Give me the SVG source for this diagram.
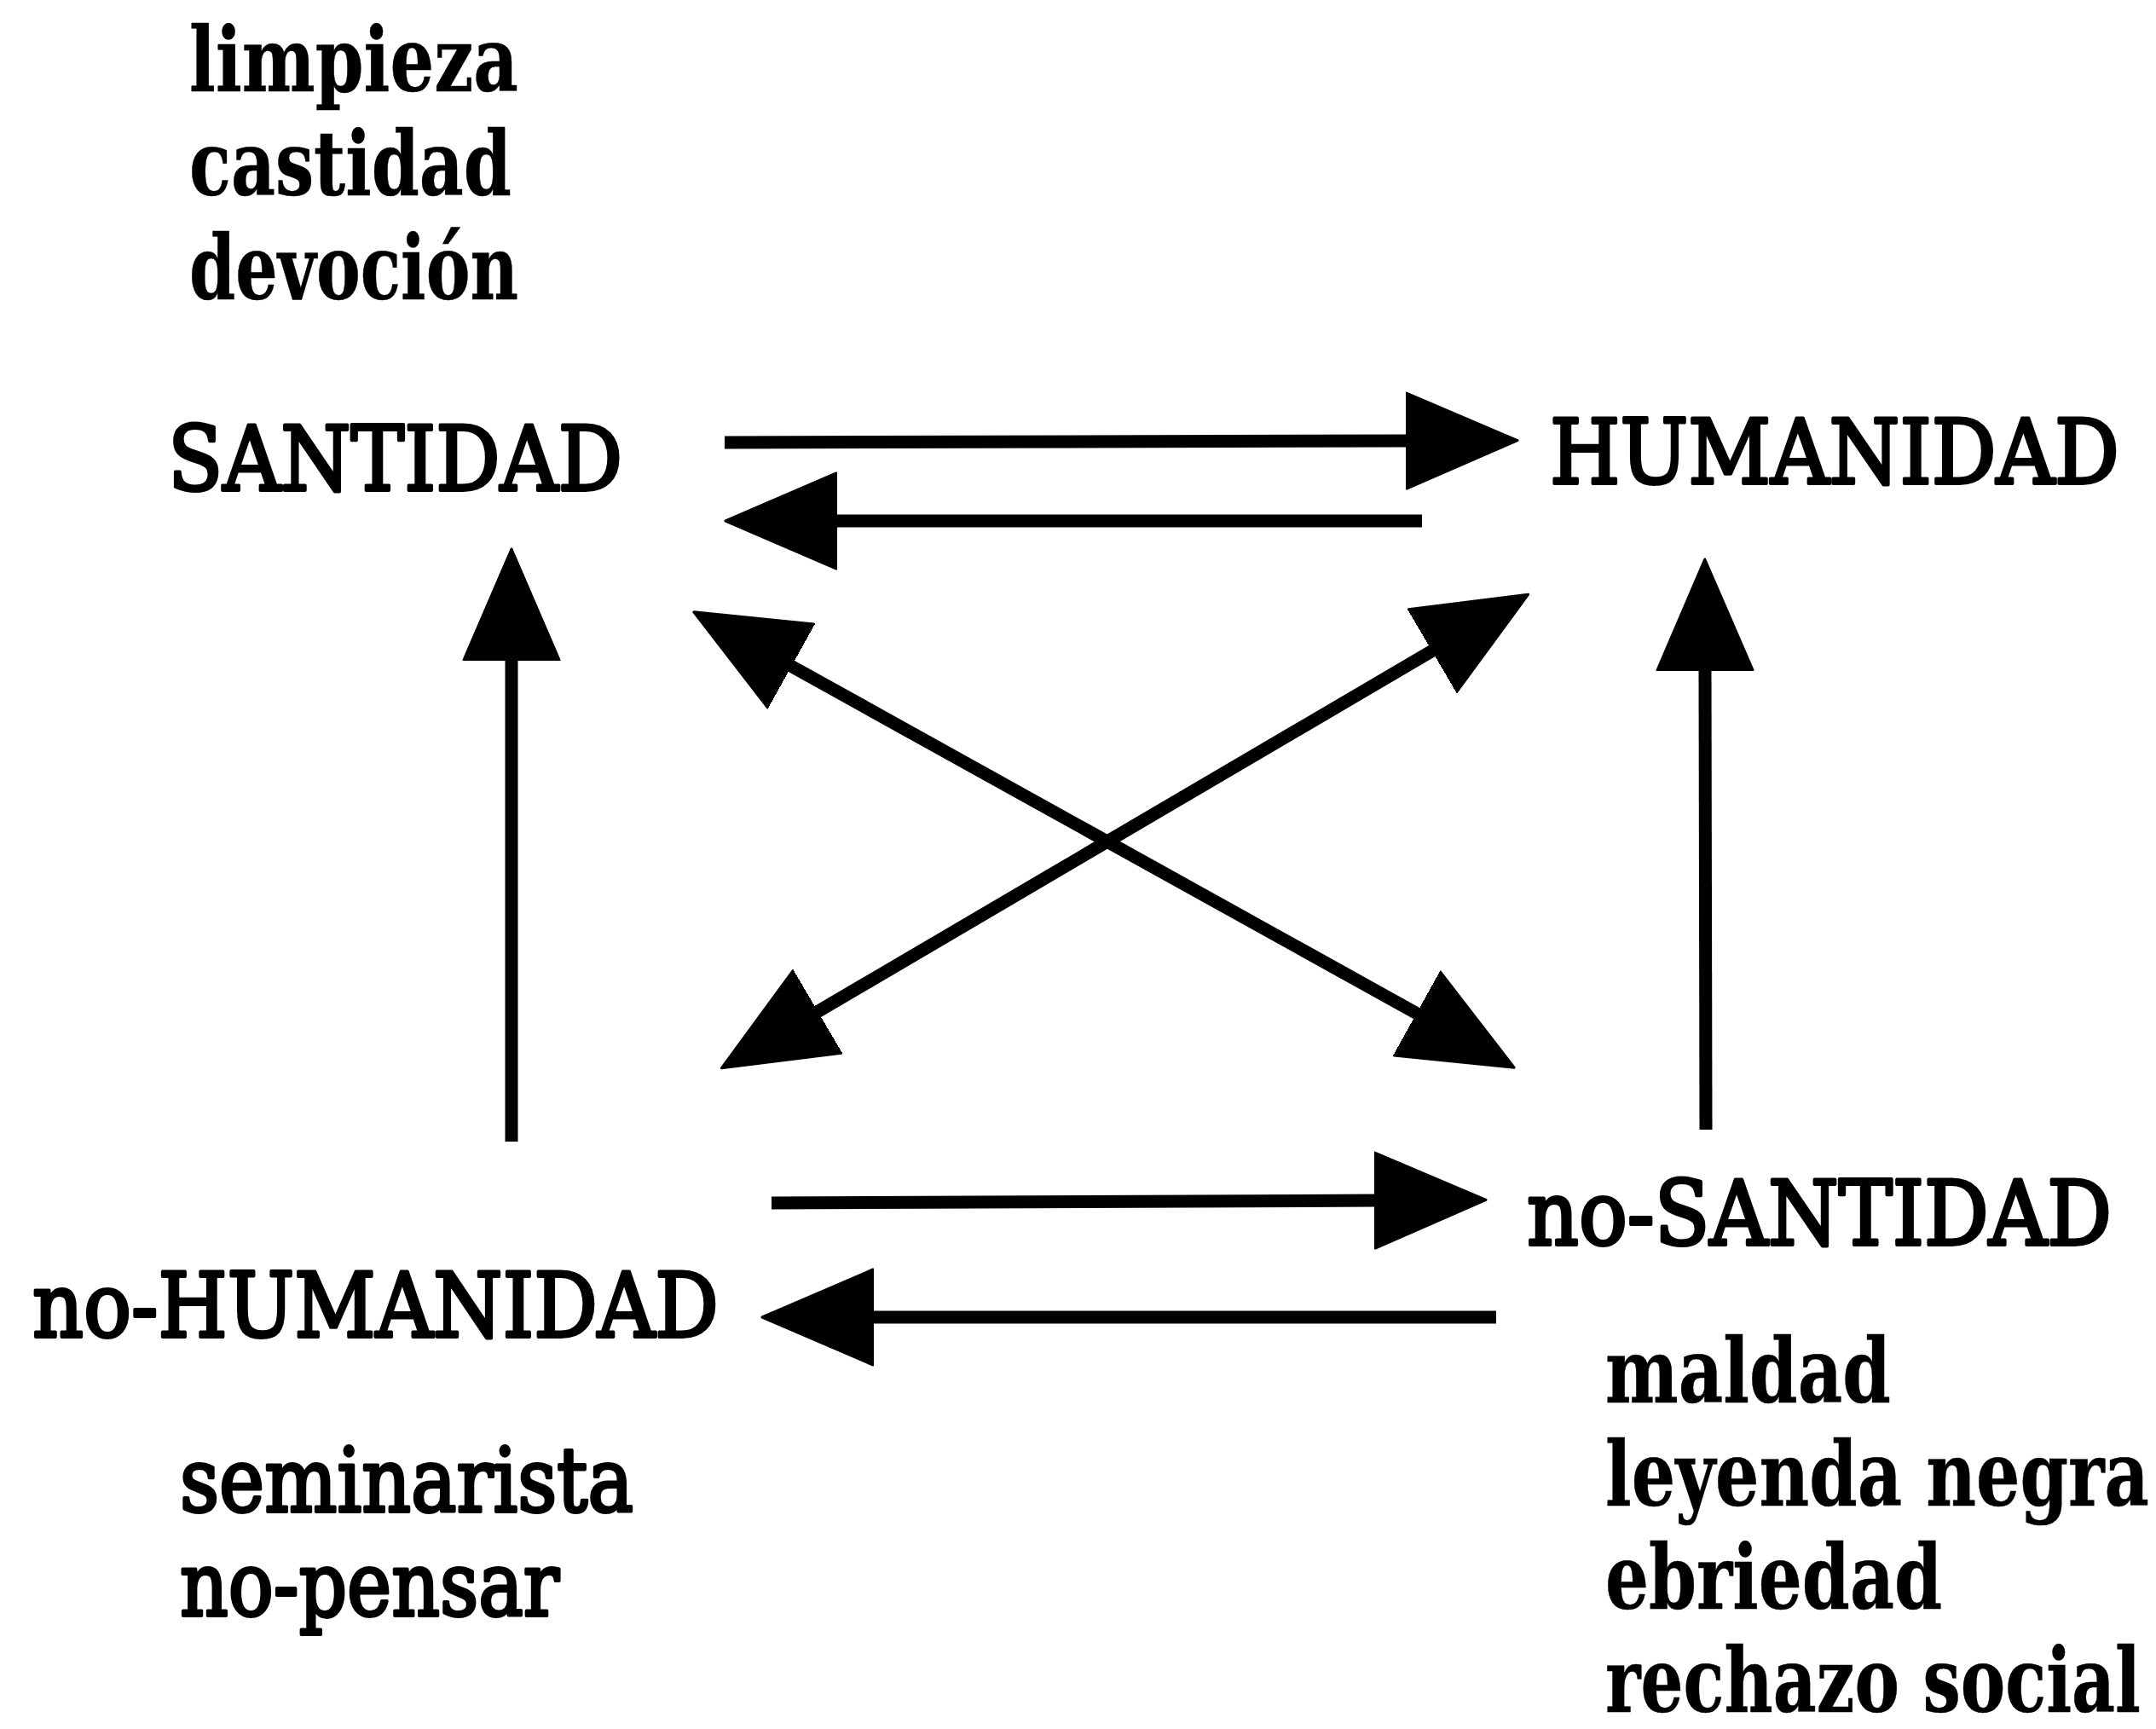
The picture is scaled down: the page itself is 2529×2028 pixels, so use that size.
<svg xmlns="http://www.w3.org/2000/svg" width="2529" height="2028" viewBox="0 0 2529 2028">
  <style>
    text { font-family: "DejaVu Serif", "Liberation Serif", serif; font-size: 104px; fill: #000; stroke: #000; stroke-width: 4px; stroke-linejoin: round; }
    text.list { font-weight: 700; stroke-width: 0.5px; }
    .conn { stroke: #000; stroke-width: 15; fill: none; }
  </style>
  <defs>
    <marker id="head" viewBox="-5 -60 135 120" markerWidth="135" markerHeight="120" refX="0" refY="0" orient="auto-start-reverse" markerUnits="userSpaceOnUse">
      <path d="M-4,-56 L126,0 L-4,56 Z" fill="#000" stroke="#000" stroke-width="3" stroke-linejoin="round"/>
    </marker>
  </defs>
  <rect width="2529" height="2028" fill="#fff"/>

  <g id="node-santidad">
    <text class="list" x="222" y="107" textLength="386" lengthAdjust="spacingAndGlyphs">limpieza</text>
    <text class="list" x="222" y="229" textLength="378" lengthAdjust="spacingAndGlyphs">castidad</text>
    <text class="list" x="222" y="351" textLength="386" lengthAdjust="spacingAndGlyphs">devoción</text>
    <text x="197" y="575" textLength="533" lengthAdjust="spacingAndGlyphs">SANTIDAD</text>
  </g>
  <g id="node-humanidad">
    <text x="1818" y="567" textLength="668" lengthAdjust="spacingAndGlyphs">HUMANIDAD</text>
  </g>
  <g id="node-no-humanidad">
    <text x="38" y="1568" textLength="805" lengthAdjust="spacingAndGlyphs">no-HUMANIDAD</text>
    <text x="211" y="1773" textLength="532" lengthAdjust="spacingAndGlyphs">seminarista</text>
    <text x="211" y="1895" textLength="445" lengthAdjust="spacingAndGlyphs">no-pensar</text>
  </g>
  <g id="node-no-santidad">
    <text x="1791" y="1460" textLength="686" lengthAdjust="spacingAndGlyphs">no-SANTIDAD</text>
    <text class="list" x="1883" y="1645" textLength="335" lengthAdjust="spacingAndGlyphs">maldad</text>
    <text class="list" x="1883" y="1766" textLength="638" lengthAdjust="spacingAndGlyphs">leyenda negra</text>
    <text class="list" x="1883" y="1887" textLength="395" lengthAdjust="spacingAndGlyphs">ebriedad</text>
    <text class="list" x="1883" y="2008" textLength="628" lengthAdjust="spacingAndGlyphs">rechazo social</text>
  </g>

  <g id="connectors">
    <line class="conn" x1="850" y1="519" x2="1654" y2="517" marker-end="url(#head)"/>
    <line class="conn" x1="1668" y1="611" x2="977" y2="611" marker-end="url(#head)"/>
    <line class="conn" x1="600" y1="1339" x2="600" y2="770" marker-end="url(#head)"/>
    <line class="conn" x1="2001" y1="1325" x2="2000" y2="782" marker-end="url(#head)"/>
    <line class="conn" x1="905" y1="1411" x2="1617" y2="1408" marker-end="url(#head)"/>
    <line class="conn" x1="1755" y1="1545" x2="1020" y2="1545" marker-end="url(#head)"/>
    <line class="conn" x1="924" y1="779" x2="1666" y2="1191" marker-start="url(#head)" marker-end="url(#head)"/>
    <line class="conn" x1="1684" y1="761" x2="955" y2="1189" marker-start="url(#head)" marker-end="url(#head)"/>
  </g>
</svg>
